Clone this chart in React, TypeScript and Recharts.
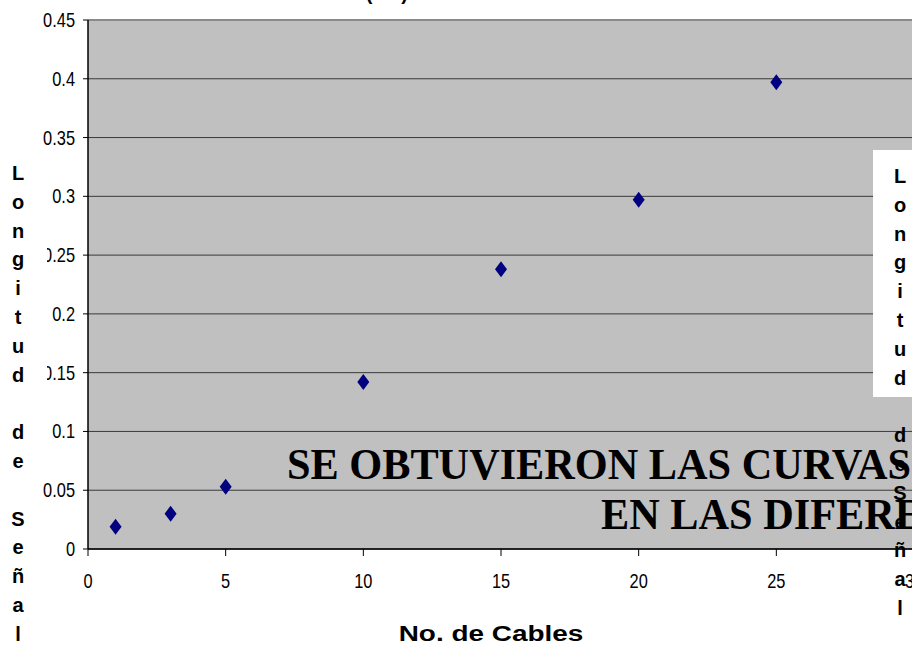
import { ScatterChart, Scatter, XAxis, YAxis, CartesianGrid, ReferenceLine } from "recharts";

// No. de Cables vs Longitud de Señal
const cables = [1, 3, 5, 10, 15, 20, 25];
const longitud = [0.019, 0.03, 0.053, 0.142, 0.238, 0.297, 0.397];

const xTicks = [0, 5, 10, 15, 20, 25, 30];
const yTicks = [0, 0.05, 0.1, 0.15, 0.2, 0.25, 0.3, 0.35, 0.4, 0.45];
// labels that the original render clipped on the left
const clippedYTicks = [0.25, 0.15];

const leftLabel = ["L", "o", "n", "g", "i", "t", "u", "d", " ", "d", "e", " ", "S", "e", "ñ", "a", "l"];
const rightLabel = ["L", "o", "n", "g", "i", "t", "u", "d", " ", "d", "e", "S", "e", "ñ", "a", "l"];

const overlayLine1 = "SE OBTUVIERON LAS CURVAS";
const overlayLine2 = "EN LAS DIFERENTES";

const data = cables.map((c, i) => ({ x: c, y: longitud[i] }));

const sans = "'Liberation Sans', Arial, sans-serif";
const serif = "'Liberation Serif', 'Times New Roman', serif";

const Diamond = (props: any) => {
    const { cx, cy } = props;
    return (
        <polygon
            points={`${cx},${cy - 8} ${cx + 6},${cy} ${cx},${cy + 8} ${cx - 6},${cy}`}
            fill="#000080"
        />
    );
};

// narrow (Arial Narrow look) tick text
const YTick = (props: any) => {
    const { x, y, payload, index } = props;
    const clip = clippedYTicks.includes(payload.value);
    const id = `yclip-${index}`;
    return (
        <g clipPath={clip ? `url(#${id})` : undefined}>
            {clip && (
                <defs>
                    <clipPath id={id}>
                        <rect x={47} y={y - 20} width={60} height={40} />
                    </clipPath>
                </defs>
            )}
            <text
                transform={`translate(${x - 6},${y + 7}) scale(0.82,1)`}
                textAnchor="end"
                fontFamily={sans}
                fontSize={20}
                fill="#000"
            >
                {String(payload.value)}
            </text>
        </g>
    );
};

const XTick = (props: any) => {
    const { x, y, payload } = props;
    return (
        <text
            transform={`translate(${x},${y + 30}) scale(0.82,1)`}
            textAnchor="middle"
            fontFamily={sans}
            fontSize={20}
            fill="#000"
        >
            {String(payload.value)}
        </text>
    );
};

export default function App() {
    return (
        <div
            style={{
                position: "fixed",
                left: 0,
                top: 0,
                width: 912,
                height: 647,
                overflow: "hidden",
                background: "#fff",
            }}
        >
            <div style={{ position: "absolute", left: 0, top: 0 }}>
                <ScatterChart width={930} height={647} margin={{ top: 20, right: 16, bottom: 48, left: 0 }}>
                    <CartesianGrid fill="#C0C0C0" vertical={false} stroke="#3a3a3a" strokeWidth={1} />
                    <XAxis
                        type="number"
                        dataKey="x"
                        domain={[0, 30]}
                        ticks={xTicks}
                        height={50}
                        axisLine={{ stroke: "#000", strokeWidth: 1.5 }}
                        tickLine={{ stroke: "#000" }}
                        tickSize={7}
                        tick={<XTick />}
                        interval={0}
                    />
                    <YAxis
                        type="number"
                        dataKey="y"
                        domain={[0, 0.45]}
                        ticks={yTicks}
                        width={88}
                        axisLine={{ stroke: "#000", strokeWidth: 1.5 }}
                        tickLine={{ stroke: "#000" }}
                        tickSize={5}
                        tick={<YTick />}
                        interval={0}
                    />
                    <ReferenceLine y={0.45} stroke="#8a8a8a" strokeWidth={2} />
                    <Scatter data={data} shape={<Diamond />} isAnimationActive={false} />
                </ScatterChart>
            </div>
            <svg
                width={912}
                height={647}
                style={{ position: "absolute", left: 0, top: 0, pointerEvents: "none" }}
            >
                {/* chart title, cut off by the top edge */}
                <text x={408} y={0} textAnchor="end" fontFamily={sans} fontWeight="bold" fontSize={20} fill="#000">
                    (ms)
                </text>

                {/* left axis title, one letter per line */}
                <text fontFamily={sans} fontWeight="bold" fontSize={20} fill="#000" textAnchor="middle">
                    {leftLabel.map((ch, i) => (
                        <tspan key={i} x={18} y={180 + i * 28.8}>
                            {ch}
                        </tspan>
                    ))}
                </text>

                {/* right duplicate title on a white box */}
                <rect x={873} y={150} width={45} height={247} fill="#fff" />
                <text fontFamily={sans} fontWeight="bold" fontSize={20} fill="#000" textAnchor="middle">
                    {rightLabel.map((ch, i) => (
                        <tspan key={i} x={900} y={183 + i * 28.8}>
                            {ch}
                        </tspan>
                    ))}
                </text>

                {/* slide text lying over the chart */}
                <text
                    transform="translate(287,479) scale(0.94,1)"
                    fontFamily={serif}
                    fontWeight="bold"
                    fontSize={45}
                    fill="#000"
                >
                    {overlayLine1}
                </text>
                <text
                    transform="translate(601,529) scale(0.94,1)"
                    fontFamily={serif}
                    fontWeight="bold"
                    fontSize={45}
                    fill="#000"
                >
                    {overlayLine2}
                </text>

                {/* x axis title */}
                <text
                    transform="translate(491,641) scale(1.27,1)"
                    textAnchor="middle"
                    fontFamily={sans}
                    fontWeight="bold"
                    fontSize={22}
                    fill="#000"
                >
                    No. de Cables
                </text>
            </svg>
        </div>
    );
}
